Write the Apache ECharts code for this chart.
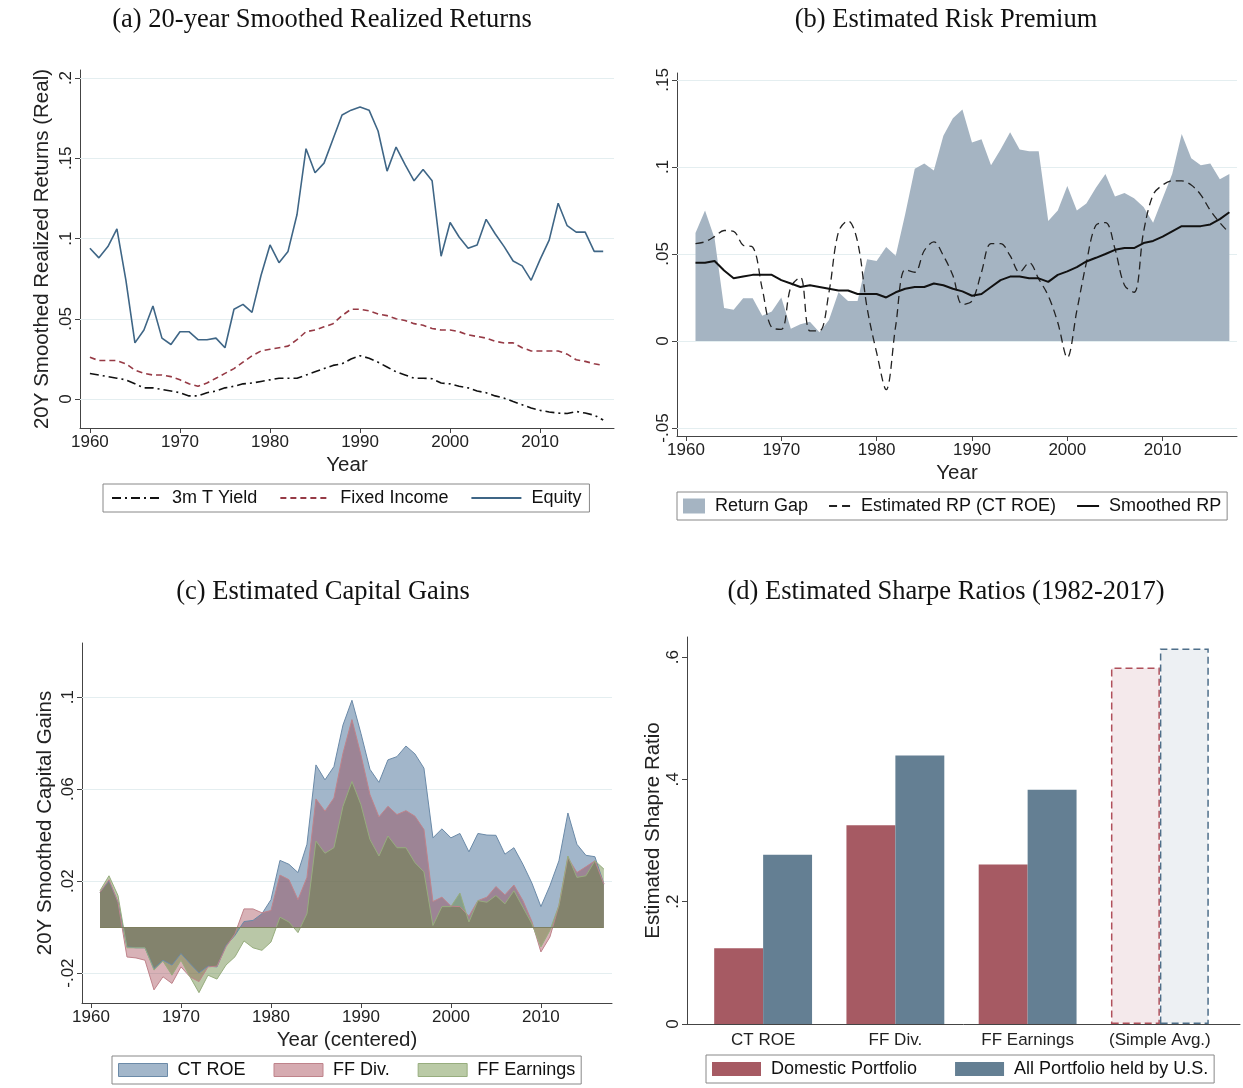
<!DOCTYPE html>
<html>
<head>
<meta charset="utf-8">
<script src="https://cdn.jsdelivr.net/npm/echarts@6/dist/echarts.min.js"></script>
<style>
  html, body { margin: 0; padding: 0; background: #fff; }
  #main { width: 1243px; height: 1088px; }
</style>
</head>
<body>
<div id="main"></div>
<script>
// ---- data ----
var yearTicks = [1960, 1970, 1980, 1990, 2000, 2010];

// (a) 20-year smoothed realized returns, 1960-2017
var tYield = [0.016,0.015,0.014,0.013,0.012,0.0095,0.007,0.007,0.006,0.005,
  0.004,0.002,0.002,0.004,0.005,0.007,0.008,0.0095,0.010,0.011,
  0.012,0.013,0.013,0.013,0.015,0.017,0.019,0.021,0.022,0.025,
  0.027,0.0255,0.023,0.020,0.017,0.015,0.013,0.013,0.0127,0.010,
  0.0095,0.008,0.007,0.005,0.004,0.002,0.0006,-0.0015,-0.0035,-0.0056,
  -0.007,-0.008,-0.0087,-0.009,-0.0077,-0.0087,-0.010,-0.013];
var fixedIncome = [0.026,0.024,0.024,0.024,0.022,0.018,0.016,0.015,0.015,0.014,
  0.012,0.0095,0.008,0.010,0.013,0.016,0.019,0.023,0.027,0.030,
  0.031,0.032,0.033,0.037,0.042,0.043,0.045,0.047,0.052,0.056,
  0.056,0.055,0.053,0.052,0.050,0.049,0.047,0.046,0.044,0.043,
  0.043,0.042,0.040,0.039,0.038,0.036,0.035,0.035,0.032,0.030,
  0.030,0.030,0.030,0.028,0.0245,0.0235,0.022,0.021];
var equity = [0.094,0.088,0.095,0.106,0.074,0.035,0.043,0.058,0.038,0.034,
  0.042,0.042,0.037,0.037,0.038,0.032,0.056,0.059,0.054,0.077,
  0.096,0.085,0.092,0.115,0.156,0.141,0.147,0.162,0.177,0.180,
  0.182,0.180,0.167,0.142,0.157,0.146,0.136,0.143,0.136,0.089,
  0.110,0.101,0.094,0.096,0.112,0.103,0.095,0.086,0.083,0.074,
  0.087,0.099,0.122,0.108,0.104,0.104,0.092,0.092];
var ticksA = [0, 0.05, 0.1, 0.15, 0.2];

// (b) estimated risk premium, 1961-2017
var returnGap = [0.062,0.075,0.059,0.019,0.018,0.0245,0.0245,0.0145,0.017,
  0.025,0.007,0.0096,0.011,0.005,0.012,0.028,0.023,0.023,0.047,
  0.046,0.054,0.049,0.073,0.099,0.102,0.098,0.118,0.128,0.133,
  0.114,0.116,0.101,0.110,0.120,0.110,0.109,0.109,0.069,0.075,
  0.089,0.075,0.079,0.088,0.096,0.083,0.085,0.082,0.077,0.068,
  0.082,0.096,0.119,0.105,0.101,0.102,0.093,0.096];
var estRP = [0.056,0.057,0.060,0.0635,0.063,0.055,0.054,0.030,0.0077,
  0.0067,0.031,0.0366,0.0058,0.0058,0.028,0.0627,0.069,0.057,0.019,
  -0.0067,-0.028,0.0087,0.041,0.0395,0.052,0.057,0.049,0.0376,0.021,
  0.023,0.0395,0.056,0.056,0.049,0.0395,0.045,0.0357,0.026,0.0106,
  -0.0096,0.0174,0.045,0.0665,0.068,0.053,0.032,0.028,0.0627,0.084,
  0.0896,0.092,0.092,0.0896,0.084,0.075,0.068,0.062];
var smoothRP = [0.045,0.045,0.046,0.0405,0.036,0.037,0.038,0.038,0.038,
  0.035,0.033,0.031,0.032,0.031,0.030,0.029,0.029,0.027,0.027,
  0.027,0.025,0.028,0.030,0.031,0.031,0.033,0.032,0.030,0.0285,
  0.026,0.027,0.031,0.035,0.037,0.037,0.036,0.036,0.034,0.038,
  0.040,0.0424,0.0457,0.0478,0.050,0.0524,0.0534,0.0534,0.0563,0.0575,
  0.060,0.063,0.066,0.066,0.066,0.067,0.070,0.074];
var ticksB = [-0.05, 0, 0.05, 0.1, 0.15];

// (c) estimated capital gains, 1961-2017
var ctRoe = [0.0151,0.020,0.0108,-0.0086,-0.009,-0.009,-0.018,-0.0144,-0.0165,
  -0.0115,-0.0158,-0.0199,-0.017,-0.0173,-0.008,-0.0036,0.0024,0.0029,0.0058,
  0.0119,0.029,0.0273,0.0237,0.036,0.0705,0.064,0.0698,0.0878,0.0986,
  0.0842,0.0686,0.0629,0.0727,0.0741,0.0787,0.0753,0.0691,0.0388,0.0427,
  0.0388,0.0407,0.0327,0.0407,0.040,0.0399,0.0317,0.0345,0.0273,0.0191,
  0.0089,0.018,0.0288,0.0496,0.036,0.0312,0.0306,0.0187];
var ffDiv = [0.0151,0.0206,0.0108,-0.013,-0.0134,-0.0144,-0.0273,-0.0216,-0.0245,
  -0.0173,-0.0216,-0.0237,-0.0173,-0.017,-0.0086,-0.0029,0.0079,0.0079,0.0062,
  0.0072,0.0226,0.0206,0.0119,0.0216,0.0557,0.0504,0.0561,0.0755,0.0902,
  0.0748,0.0576,0.0479,0.0525,0.0489,0.0506,0.0482,0.0424,0.0111,0.013,
  0.0091,0.0089,0.0047,0.0115,0.013,0.0176,0.014,0.0183,0.0115,0.0024,
  -0.0108,-0.0043,0.0094,0.0302,0.0237,0.0262,0.0288,0.0187];
var ffEarn = [0.0158,0.0223,0.0137,-0.009,-0.009,-0.009,-0.0187,-0.0148,-0.0209,
  -0.0144,-0.0216,-0.0285,-0.0209,-0.0226,-0.0165,-0.0129,-0.006,-0.009,-0.0101,
  -0.0065,0.0043,0.0022,-0.0024,0.0058,0.0374,0.0321,0.0345,0.0525,0.0633,
  0.0532,0.0381,0.0309,0.0396,0.0345,0.0345,0.028,0.024,0.0007,0.0089,
  0.0089,0.0148,0.0022,0.0115,0.0108,0.0137,0.0101,0.0158,0.0086,0.0014,
  -0.0086,-0.0014,0.0094,0.0309,0.0216,0.0223,0.0288,0.0252];
var ticksC = [-0.02, 0.02, 0.06, 0.1];

// (d) estimated Sharpe ratios
var sharpeCats = ['CT ROE', 'FF Div.', 'FF Earnings', '(Simple Avg.)'];
var domestic = [0.124, 0.325, 0.261, 0.583];
var allUS = [0.277, 0.439, 0.383, 0.614];
var ticksD = [0, 0.2, 0.4, 0.6];

// ---- helpers ----
var SANS = 'Liberation Sans, Arial, sans-serif';
var SERIF = 'Liberation Serif, Times New Roman, serif';
var AX = '#444';
var GRIDC = '#e4eef0';

function pairs(startYear, vals) {
  var out = [];
  for (var i = 0; i < vals.length; i++) out.push([startYear + i, vals[i]]);
  return out;
}
function stataNum(v) {
  var s = String(+(+v).toFixed(3));
  return s.replace(/^0\./, '.').replace(/^-0\./, '-.');
}
function gridLines(ticks) {
  return {
    silent: true, symbol: 'none', z: 1, label: { show: false },
    lineStyle: { color: GRIDC, type: 'solid', width: 1 },
    data: ticks.map(function (v) { return { yAxis: v }; })
  };
}
function yearAxis(gi, min, max, name) {
  return {
    gridIndex: gi, type: 'value', min: min, max: max,
    axisLine: { show: true, onZero: false, lineStyle: { color: AX, width: 1 } },
    axisTick: { show: true, customValues: yearTicks, length: 5, lineStyle: { color: AX } },
    axisLabel: { customValues: yearTicks, color: '#222', fontSize: 17, fontFamily: SANS, margin: 6,
      formatter: function (v) { return String(v); } },
    splitLine: { show: false },
    name: name, nameLocation: 'middle', nameGap: 27,
    nameTextStyle: { color: '#222', fontSize: 20.5, fontFamily: SANS }
  };
}
function valAxis(gi, min, max, ticks, name, nameGap) {
  return {
    gridIndex: gi, type: 'value', min: min, max: max,
    axisLine: { show: true, onZero: false, lineStyle: { color: AX, width: 1 } },
    axisTick: { show: true, customValues: ticks, length: 5, lineStyle: { color: AX } },
    axisLabel: { customValues: ticks, rotate: 90, color: '#222', fontSize: 17, fontFamily: SANS,
      margin: 5, formatter: stataNum },
    splitLine: { show: false },
    name: name || '', nameLocation: 'middle', nameGap: nameGap || 30, nameRotate: 90,
    nameTextStyle: { color: '#222', fontSize: 20.5, fontFamily: SANS }
  };
}
function panelTitle(text, x, y) {
  return { text: text, left: x, top: y, textAlign: 'center',
    textStyle: { fontFamily: SERIF, fontSize: 26.5, fontWeight: 'normal', color: '#111' } };
}
var legendText = { fontSize: 18, fontFamily: SANS, color: '#111', padding: [0, 0, 0, 5] };

var myChart = echarts.init(document.getElementById('main'));
var option = {
  animation: false,
  backgroundColor: '#fff',
  title: [
    panelTitle('(a) 20-year Smoothed Realized Returns', 317, 2),
    panelTitle('(b) Estimated Risk Premium', 941, 2),
    panelTitle('(c) Estimated Capital Gains', 318, 574),
    panelTitle('(d) Estimated Sharpe Ratios (1982-2017)', 941, 574)
  ],
  grid: [
    { left: 80, top: 70, width: 534, height: 358 },
    { left: 677, top: 73, width: 560, height: 363 },
    { left: 82, top: 643, width: 530, height: 360 },
    { left: 687, top: 637, width: 553, height: 387 },
    { left: 697, top: 637, width: 529, height: 387 }
  ],
  xAxis: [
    yearAxis(0, 1958.9, 2018.2, 'Year'),
    yearAxis(1, 1959.06, 2017.8, 'Year'),
    yearAxis(2, 1959, 2017.9, 'Year (centered)'),
    { gridIndex: 3, type: 'value', min: 0, max: 1,
      axisLine: { show: true, onZero: false, lineStyle: { color: AX } },
      axisTick: { show: false }, axisLabel: { show: false }, splitLine: { show: false } },
    { gridIndex: 4, type: 'category', data: sharpeCats,
      axisLine: { show: false }, axisTick: { show: false },
      axisLabel: { color: '#222', fontSize: 17, fontFamily: SANS, margin: 8 } }
  ],
  yAxis: [
    valAxis(0, -0.018, 0.205, ticksA, '20Y Smoothed Realized Returns (Real)', 27),
    valAxis(1, -0.0546, 0.154, ticksB, '', 30),
    valAxis(2, -0.033, 0.1235, ticksC, '20Y Smoothed Capital Gains', 26),
    valAxis(3, 0, 0.633, ticksD, 'Estimated Shapre Ratio', 21),
    { gridIndex: 4, type: 'value', min: 0, max: 0.633, show: false, splitLine: { show: false } }
  ],
  legend: [
    { left: 103, top: 484, padding: [5, 8], borderColor: '#888', borderWidth: 1,
      itemWidth: 50, itemHeight: 10, itemGap: 22, selectedMode: false, textStyle: legendText,
      itemStyle: { opacity: 0 },
      data: ['3m T Yield', 'Fixed Income', 'Equity'] },
    { left: 677, top: 492, width: 600, padding: [5, 6], borderColor: '#888', borderWidth: 1,
      itemWidth: 22, itemHeight: 15, itemGap: 20, selectedMode: false, textStyle: legendText,
      itemStyle: { opacity: 0 },
      data: [{ name: 'Return Gap', icon: 'rect', itemStyle: { color: '#a5b4c2', opacity: 1 } },
        'Estimated RP (CT ROE)', 'Smoothed RP'] },
    { left: 112, top: 1056, padding: [5, 6], borderColor: '#888', borderWidth: 1,
      itemWidth: 49, itemHeight: 13, itemGap: 28, selectedMode: false, textStyle: legendText,
      data: [
        { name: 'CT ROE', icon: 'rect', itemStyle: { color: '#a2b6ca', borderColor: '#6b8aa8', borderWidth: 1 } },
        { name: 'FF Div.', icon: 'rect', itemStyle: { color: '#d6abb1', borderColor: '#bf838b', borderWidth: 1 } },
        { name: 'FF Earnings', icon: 'rect', itemStyle: { color: '#bacaa6', borderColor: '#97ad7e', borderWidth: 1 } }
      ] },
    { left: 706, top: 1055, padding: [5, 6], borderColor: '#888', borderWidth: 1,
      itemWidth: 49, itemHeight: 14, itemGap: 38, selectedMode: false, textStyle: legendText,
      data: [{ name: 'Domestic Portfolio', icon: 'rect' }, { name: 'All Portfolio held by U.S.', icon: 'rect' }] }
  ],
  series: [
    // (a)
    { name: '3m T Yield', type: 'line', xAxisIndex: 0, yAxisIndex: 0, symbol: 'none',
      data: pairs(1960, tYield), color: '#111',
      lineStyle: { color: '#111', width: 1.6, type: [9, 4, 2, 4] },
      markLine: gridLines(ticksA) },
    { name: 'Fixed Income', type: 'line', xAxisIndex: 0, yAxisIndex: 0, symbol: 'none',
      data: pairs(1960, fixedIncome), color: '#963a45',
      lineStyle: { color: '#963a45', width: 1.6, type: [6, 4] } },
    { name: 'Equity', type: 'line', xAxisIndex: 0, yAxisIndex: 0, symbol: 'none',
      data: pairs(1960, equity), color: '#3f6686',
      lineStyle: { color: '#3f6686', width: 1.6 } },
    // (b)
    { name: 'Return Gap', type: 'line', xAxisIndex: 1, yAxisIndex: 1, symbol: 'none',
      data: pairs(1961, returnGap), color: '#a5b4c2',
      lineStyle: { width: 0 }, areaStyle: { color: '#a5b4c2', opacity: 1 },
      markLine: gridLines(ticksB) },
    { name: 'Estimated RP (CT ROE)', type: 'line', xAxisIndex: 1, yAxisIndex: 1, symbol: 'none',
      data: pairs(1961, estRP), color: '#222', smooth: 0.35,
      lineStyle: { color: '#222', width: 1.3, type: [8, 5] } },
    { name: 'Smoothed RP', type: 'line', xAxisIndex: 1, yAxisIndex: 1, symbol: 'none',
      data: pairs(1961, smoothRP), color: '#111',
      lineStyle: { color: '#111', width: 2 } },
    // (c)
    { name: 'CT ROE', type: 'line', xAxisIndex: 2, yAxisIndex: 2, symbol: 'none',
      data: pairs(1961, ctRoe), color: '#6b8aa8',
      lineStyle: { color: '#6b8aa8', width: 1 },
      areaStyle: { color: 'rgba(70,110,150,0.5)', opacity: 1, origin: 0 },
      markLine: gridLines(ticksC) },
    { name: 'FF Div.', type: 'line', xAxisIndex: 2, yAxisIndex: 2, symbol: 'none',
      data: pairs(1961, ffDiv), color: '#bf838b',
      lineStyle: { color: '#bf838b', width: 1 },
      areaStyle: { color: 'rgba(150,45,60,0.37)', opacity: 1, origin: 0 } },
    { name: 'FF Earnings', type: 'line', xAxisIndex: 2, yAxisIndex: 2, symbol: 'none',
      data: pairs(1961, ffEarn), color: '#97ad7e',
      lineStyle: { color: '#97ad7e', width: 1 },
      areaStyle: { color: 'rgba(100,130,60,0.45)', opacity: 1, origin: 0 },
      markLine: { silent: true, symbol: 'none', label: { show: false },
        lineStyle: { color: '#7e7f5f', type: 'solid', width: 1.2 },
        data: [[{ coord: [1961, 0] }, { coord: [2017, 0] }]] } },
    // (d)
    { name: 'Domestic Portfolio', type: 'bar', xAxisIndex: 4, yAxisIndex: 4,
      barGap: '0%', barCategoryGap: '26%', color: '#a65a63',
      data: domestic.map(function (v, i) {
        return i === 3
          ? { value: v, itemStyle: { color: '#f4e9eb', borderColor: '#b0505b', borderWidth: 1.5, borderType: [7, 4] } }
          : { value: v, itemStyle: { color: '#a65a63', borderColor: '#a65a63', borderWidth: 0 } };
      }) },
    { name: 'All Portfolio held by U.S.', type: 'bar', xAxisIndex: 4, yAxisIndex: 4,
      barGap: '0%', barCategoryGap: '26%', color: '#647f93',
      data: allUS.map(function (v, i) {
        return i === 3
          ? { value: v, itemStyle: { color: '#edf0f3', borderColor: '#4f6f8a', borderWidth: 1.5, borderType: [7, 4] } }
          : { value: v, itemStyle: { color: '#647f93', borderColor: '#647f93', borderWidth: 0 } };
      }) }
  ]
};
myChart.setOption(option);
</script>
</body>
</html>
